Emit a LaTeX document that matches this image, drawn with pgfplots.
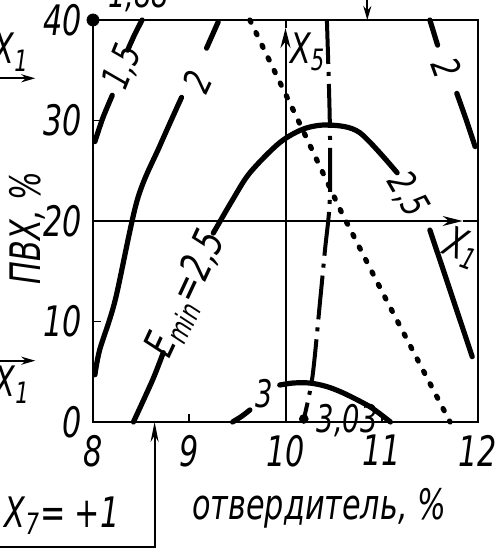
\documentclass[border=0pt]{standalone}
\usepackage{fontspec}
\setmainfont{DejaVu Sans}[FakeStretch=0.72]
\usepackage{pgfplots}
\pgfplotsset{compat=1.18}
\usetikzlibrary{arrows.meta}

\newcommand{\lbl}{\fontsize{19bp}{21bp}\selectfont\itshape}

\begin{document}
\begin{tikzpicture}[font=\fontsize{21bp}{23bp}\selectfont\itshape]
\begin{axis}[
  scale only axis, width=192.5bp, height=201bp,
  xmin=8, xmax=12, ymin=0, ymax=40,
  xtick={8,9,10,11,12}, ytick={0,10,20,30,40},
  xtick pos=left, ytick pos=left,
  tick align=inside, major tick length=4bp,
  tick style={black, line width=0.8bp},
  axis line style={line width=1.2bp},
  clip=false,
  /pgf/number format/assume math mode=true,
  ticklabel style={font=\fontsize{21bp}{23bp}\selectfont\itshape},
  xticklabel style={yshift=-3bp},
  yticklabel style={xshift=-2bp},
  contour/.style={black, line width=2.6bp, smooth, line cap=round},
  guide/.style={black, line width=1bp},
]
% guide lines through the centre point
\addplot[guide, -{Stealth[length=10bp,width=5bp]}] coordinates {(10,0) (10,39.2)};
\addplot[guide] coordinates {(10,39.2) (10,40)};
\addplot[guide, -{Stealth[length=10bp,width=5bp]}] coordinates {(8,20) (11.84,20)};
\addplot[guide] coordinates {(11.84,20) (12,20)};

% contour E = 1.5
\addplot[contour] coordinates {(8.02,27.9) (8.10,30.2) (8.20,32.5)};
\addplot[contour] coordinates {(8.36,37.0) (8.43,38.5) (8.51,40)};
% contour E = 2 (left branch)
\addplot[contour] coordinates {(8.02,4.7) (8.07,7.2) (8.23,12.1) (8.46,22.1) (8.70,27.6) (8.92,32.3)};
\addplot[contour] coordinates {(9.18,37.2) (9.30,39.8)};
% contour E = 2 (right branch)
\addplot[contour] coordinates {(11.50,40) (11.58,37.5)};
\addplot[contour] coordinates {(11.78,32.7) (11.88,30.0) (11.97,27.4)};
% contour E = 2.5
\addplot[contour] coordinates {(8.42,0) (8.62,4.2) (8.73,6.9)};
\addplot[contour] coordinates {(9.25,18.8) (9.45,22.1) (9.63,24.8) (9.94,27.8) (10.20,29.2) (10.46,29.55) (10.77,28.8) (11.16,24.8)};
\addplot[contour] coordinates {(11.50,19.1) (11.71,13.1) (11.94,6.5)};
% contour E = 3
\addplot[contour] coordinates {(9.45,0) (9.55,0.6) (9.63,1.2)};
\addplot[contour] coordinates {(9.94,3.68) (10.08,3.88) (10.25,3.88) (10.42,3.55) (10.60,2.89) (10.88,1.5) (11.09,0)};

% ridge lines
\addplot[black, line width=2.6bp, line cap=round, dash pattern=on 1.2bp off 5.8bp]
  coordinates {(9.63,40) (10.12,30.25) (10.57,21.1) (11.01,12.84) (11.71,0)};
\addplot[black, line width=2bp, smooth, dash pattern=on 22bp off 4bp on 2bp off 4bp]
  coordinates {(10.43,40) (10.46,30) (10.46,22.1) (10.41,17.1) (10.36,12.1) (10.28,4.5) (10.19,0.3)};

% extreme points
\addplot[only marks, mark=*, mark size=3bp, black] coordinates {(8,40)};
\addplot[only marks, mark=*, mark size=2.2bp, black] coordinates {(10.19,0.3)};

% level labels
\node[rotate=68] at (axis cs:8.31,35.3) {\lbl 1,5};
\node[rotate=65] at (axis cs:9.08,33.9) {\lbl 2};
\node[rotate=-70] at (axis cs:11.68,35.2) {\lbl 2};
\node[rotate=65, inner sep=0pt] at (axis cs:8.98,12.7) {E\textsubscript{min}=2,5};
\node[rotate=-60] at (axis cs:11.27,22.6) {\lbl 2,5};
\node at (axis cs:9.78,2.8) {\lbl 3};
\node[anchor=west] at (axis cs:10.25,0.1) {\lbl 3,03};
\node[anchor=base west] at ([xshift=4bp,yshift=6bp]axis cs:8,40) {\lbl 1,88};

% factor annotations
\node at (axis cs:10.23,36.8) {X\textsubscript{5}};
\node[rotate=-20] at (axis cs:11.83,17.3) {X\textsubscript{1}};
\node at (axis cs:7.15,36.8) {X\textsubscript{1}};
\node at (axis cs:7.16,3.7) {X\textsubscript{1}};
\addplot[guide, -{Stealth[length=7bp,width=4bp]}] coordinates {(6.9,34.2) (7.40,34.2)};
\addplot[guide, -{Stealth[length=7bp,width=4bp]}] coordinates {(6.9,6.1) (7.40,6.1)};
\addplot[guide, -{Stealth[length=7bp,width=4bp]}] coordinates {(10.85,43) (10.85,40)};
\addplot[guide, -{Stealth[length=10bp,width=4bp]}] coordinates {(6.9,-12.4) (8.64,-12.4) (8.64,0)};
\node at (axis cs:7.68,-9.3) {X\textsubscript{7}= +1};

% axis titles
\node at (axis cs:10.35,-8.6) {отвердитель, \%};
\node[rotate=90] at (axis cs:7.32,19.3) {ПВХ, \%};
\end{axis}
\pgfresetboundingbox
\path[use as bounding box] (-46.5bp,-65bp) rectangle (204bp,211bp);
\end{tikzpicture}
\end{document}
